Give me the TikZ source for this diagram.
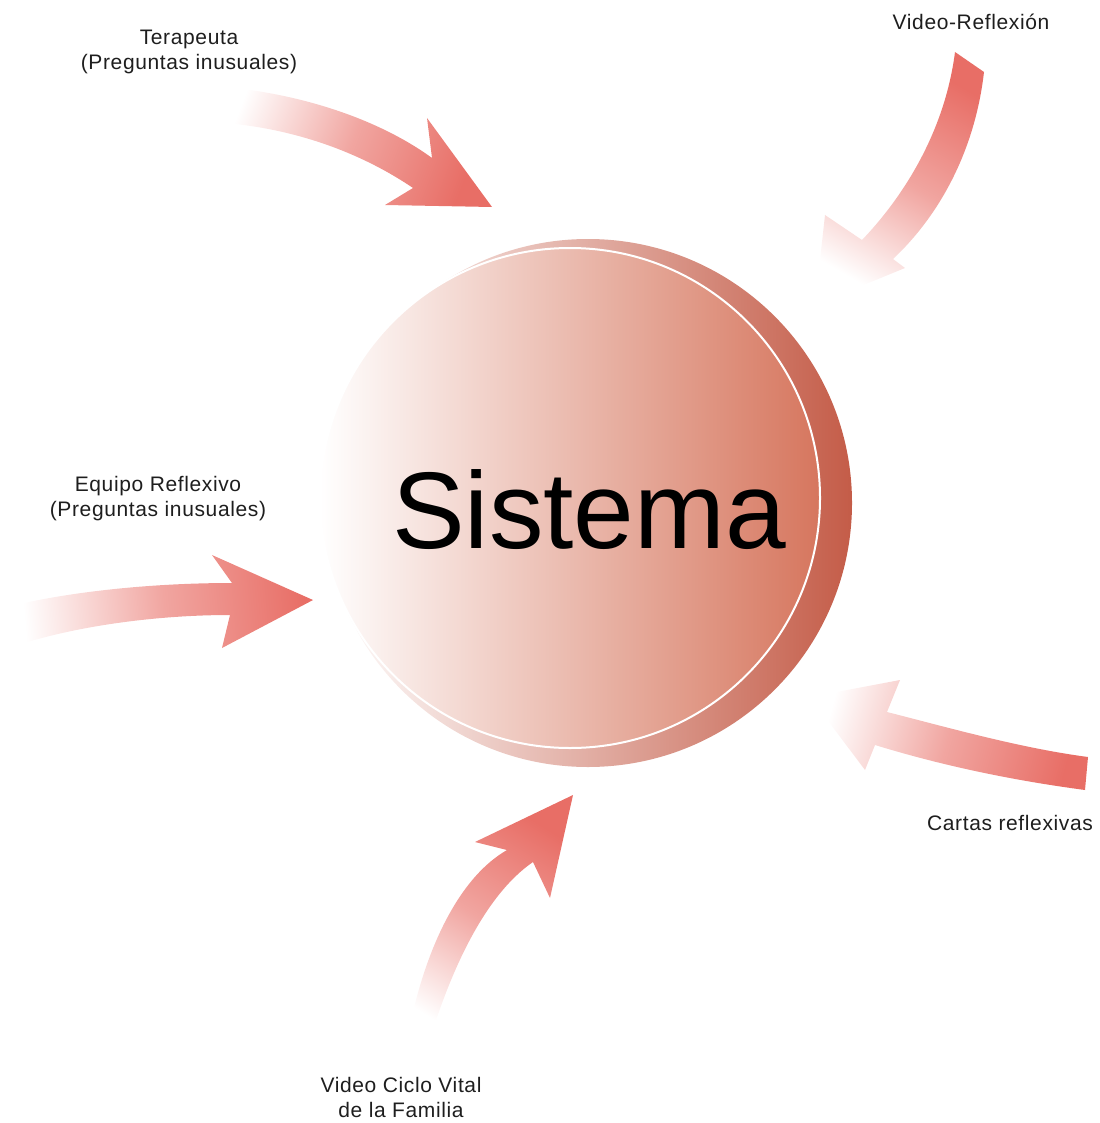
\documentclass[tikz,border=0pt]{standalone}
\usepackage{fontspec}
\setmainfont{Liberation Sans}
\newfontfamily\labelfont[LetterSpace=3]{Liberation Sans}

\definecolor{arrowred}{RGB}{232,110,102}
\definecolor{rimred}{RGB}{196,92,72}
\definecolor{discred}{RGB}{214,118,94}
\definecolor{labelgray}{RGB}{30,30,30}

\begin{document}
\begin{tikzpicture}[x=1pt,y=-1pt,
  lbl/.style={font=\labelfont\fontsize{21}{25}\selectfont, align=center,
              inner sep=0pt, text=labelgray},
  flow/.style={top color=arrowred, bottom color=white,
               middle color=arrowred!62, shading angle=#1}]

\useasboundingbox (0,0) rectangle (1099,1123);

% central system disc: darker rim behind, lighter face in front
\node[circle, minimum size=528pt, inner sep=0pt,
      left color=white, right color=rimred] (rim) at (588,503) {};
\node[circle, minimum size=500pt, inner sep=0pt,
      left color=white, right color=discred,
      draw=white, line width=2pt] (disc) at (570,498) {};
\node[font=\fontsize{109}{112}\selectfont, anchor=base, inner sep=0pt]
      (sistema) at (589,548) {Sistema};

% Terapeuta arrow (tail fades out, head solid)
\shade[flow=-111]
  (212,86) .. controls (300,92) and (380,120) .. (432,158)
  -- (427,118) -- (492,207) -- (385,205) -- (413,188)
  .. controls (360,152) and (290,126) .. (210,122) -- cycle;

% Video-Reflexion arrow (tail solid, head fades out)
\shade[flow=-30]
  (955,52) -- (984,72)
  .. controls (975,150) and (940,215) .. (893,259)
  -- (905,268) -- (815,305) -- (825,215) -- (862,240)
  .. controls (905,195) and (945,130) .. (955,52) -- cycle;

% Equipo Reflexivo arrow
\shade[flow=-85]
  (15,605) .. controls (80,590) and (160,583) .. (232,583)
  -- (212,555) -- (313,600) -- (222,648) -- (230,615)
  .. controls (160,615) and (80,625) .. (18,645) -- cycle;

% Cartas reflexivas arrow (tail solid, head fades out)
\shade[flow=-105]
  (1088,757) -- (1085,790)
  .. controls (1010,780) and (940,765) .. (875,745)
  -- (865,770) -- (810,697) -- (900,680) -- (887,712)
  .. controls (950,728) and (1020,748) .. (1088,757) -- cycle;

% Video Ciclo Vital arrow
\shade[flow=-32]
  (405,1052) .. controls (420,960) and (455,880) .. (507,850)
  -- (475,842) -- (573,795) -- (550,898) -- (533,862)
  .. controls (485,895) and (450,970) .. (426,1052) -- cycle;

% labels
\node[lbl] (terapeuta) at (189,52) {Terapeuta\\(Preguntas inusuales)};
\node[lbl] (videoref) at (971,22) {Video-Reflexión};
\node[lbl] (equipo) at (158,499) {Equipo Reflexivo\\(Preguntas inusuales)};
\node[lbl] (cartas) at (1010,823) {Cartas reflexivas};
\node[lbl] (ciclo) at (401,1097) {Video Ciclo Vital\\de la Familia};
\end{tikzpicture}
\end{document}
